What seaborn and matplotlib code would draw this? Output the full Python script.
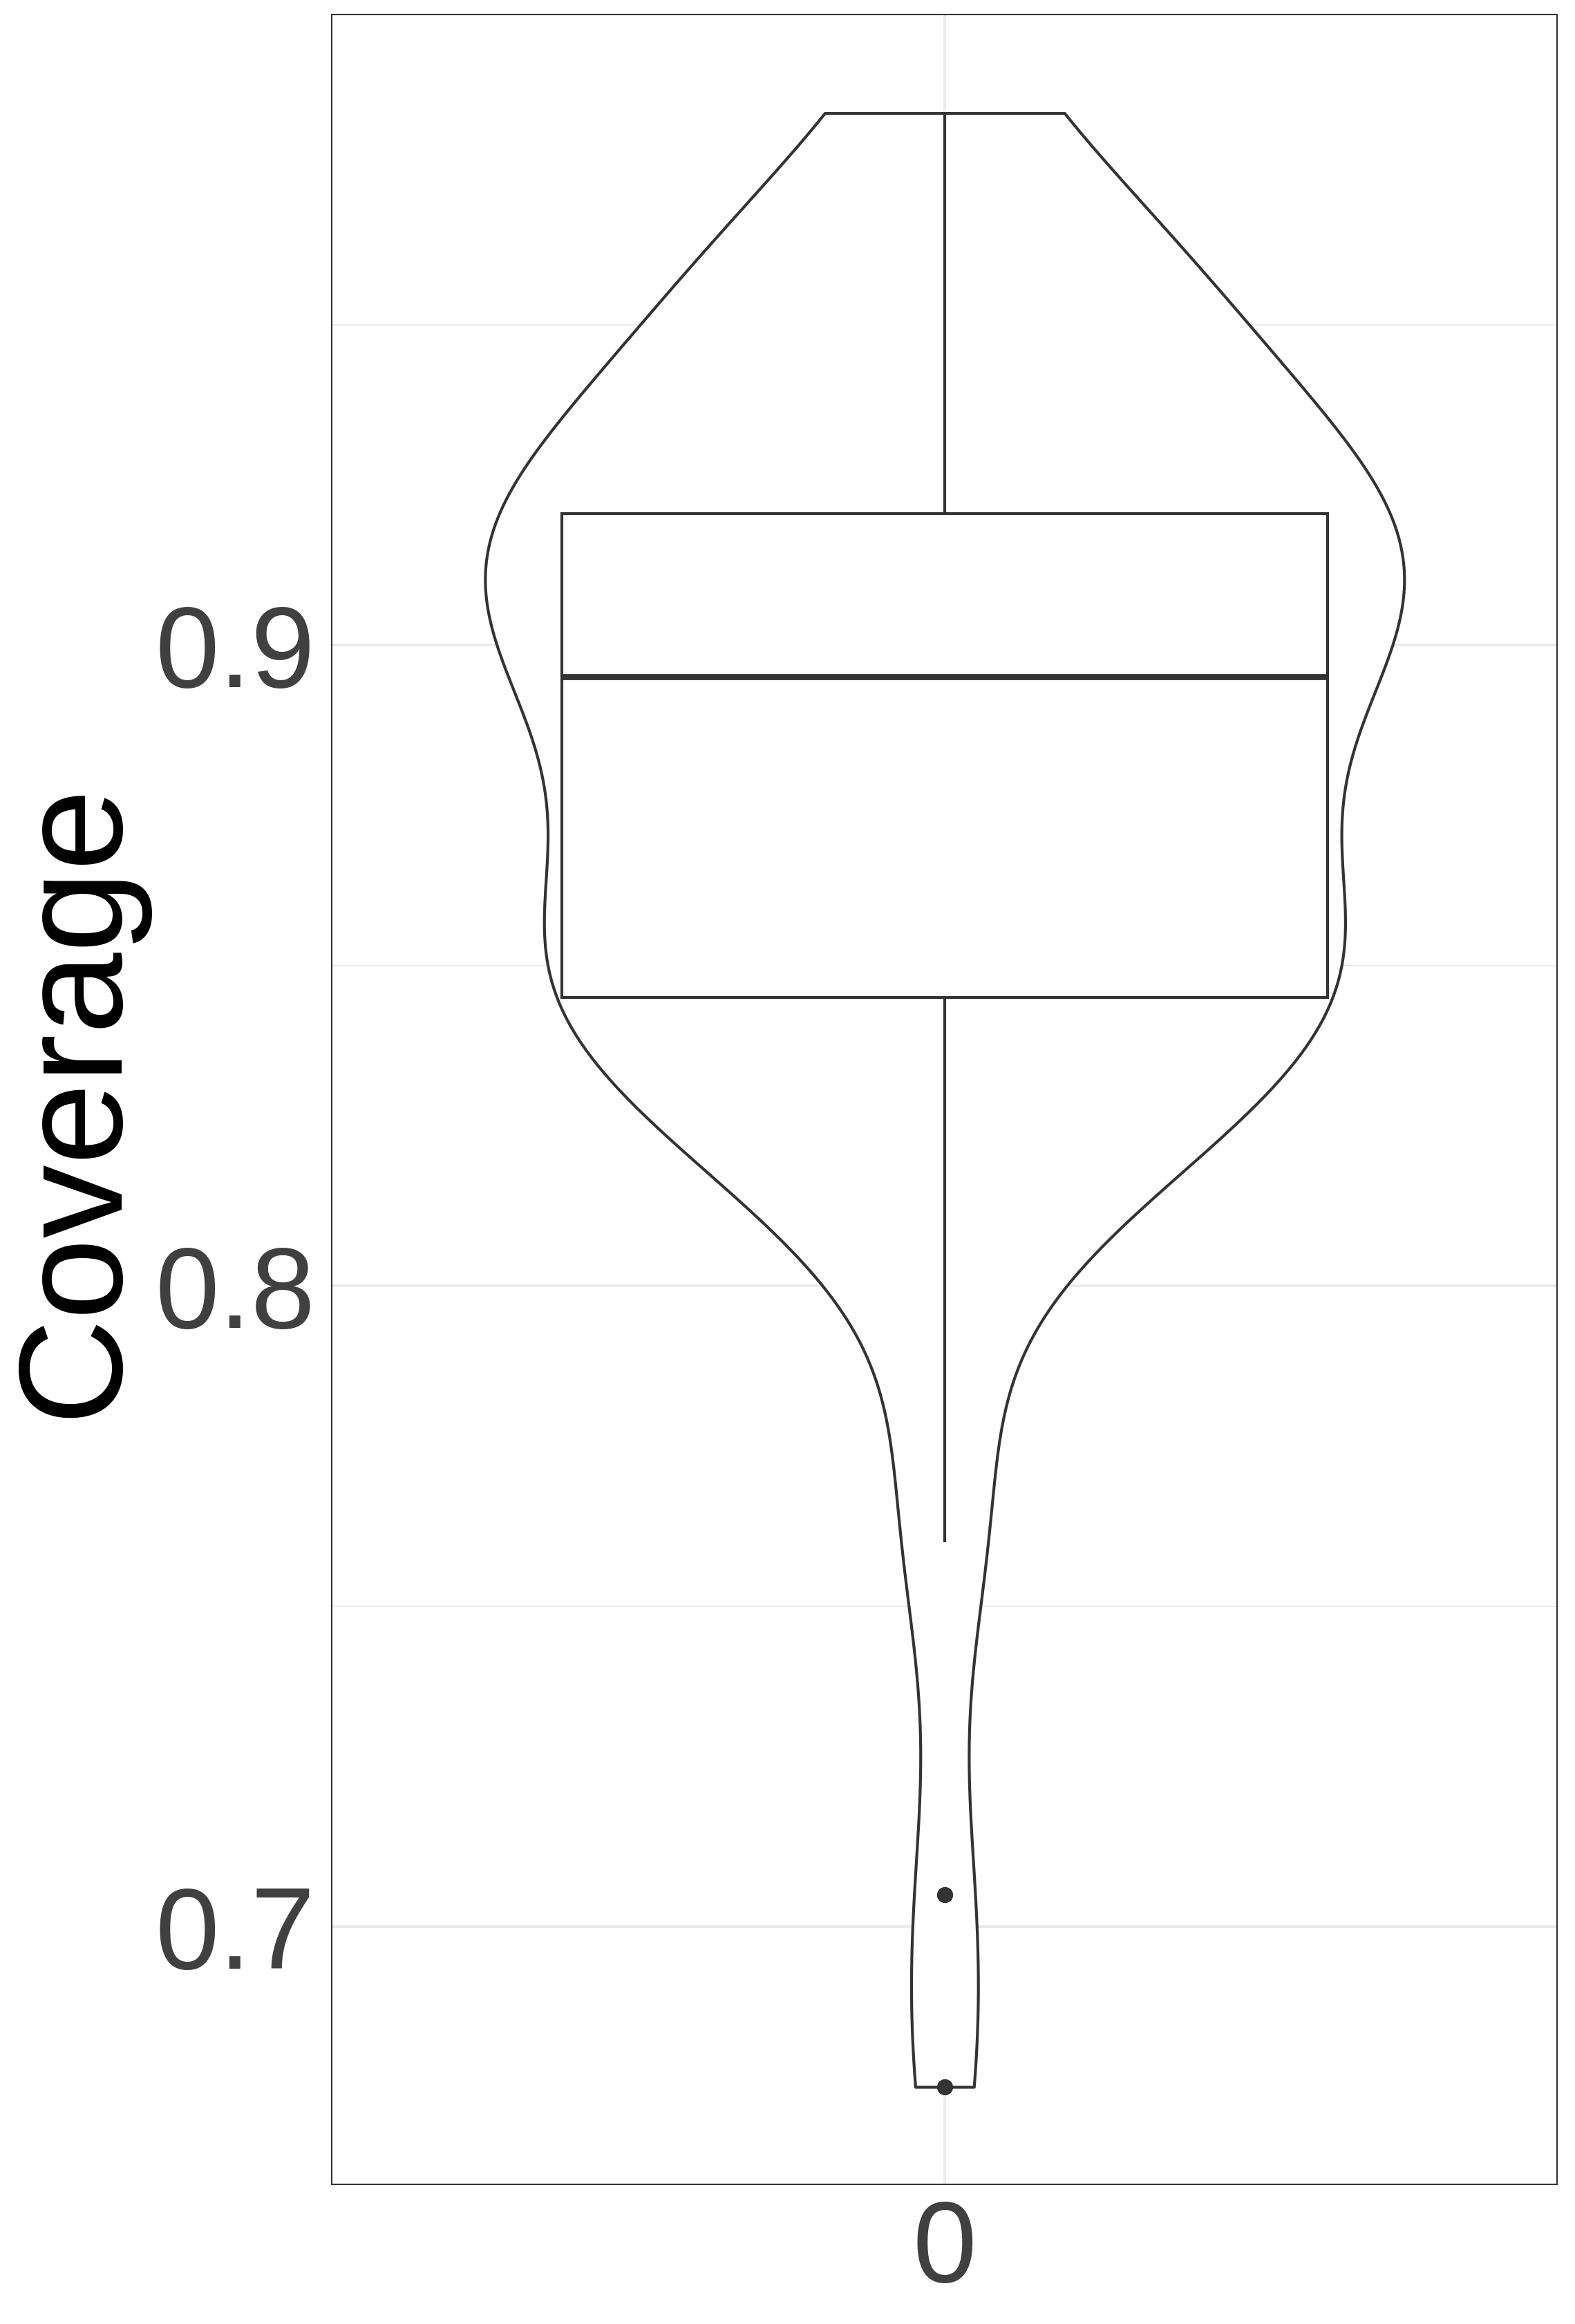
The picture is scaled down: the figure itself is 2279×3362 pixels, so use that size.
import numpy as np
import pandas as pd
import matplotlib
matplotlib.use('Agg')
import matplotlib.pyplot as plt
import seaborn as sns

coverage = [
    0.675, 0.705, 0.760, 0.771, 0.820, 0.820, 0.820, 0.820, 0.822, 0.825,
    0.834, 0.845, 0.845, 0.845, 0.845, 0.845, 0.854, 0.854, 0.854, 0.854,
    0.854, 0.854, 0.855, 0.856, 0.872, 0.883, 0.883, 0.884, 0.884, 0.895,
    0.895, 0.895, 0.895, 0.895, 0.895, 0.895, 0.913, 0.918, 0.919, 0.919,
    0.919, 0.919, 0.919, 0.919, 0.920, 0.922, 0.922, 0.922, 0.922, 0.922,
    0.950, 0.955, 0.955, 0.955, 0.955, 0.955, 0.955, 0.955, 0.977, 0.983,
]
group = ['0'] * len(coverage)
y_ticks = [0.7, 0.8, 0.9]
y_minor = [0.75, 0.85, 0.95]

df = pd.DataFrame({'group': group, 'Coverage': coverage})

# R's bw.nrd0 expressed as a factor of the sd (what the kde expects)
vals = np.array(coverage)
sd = vals.std(ddof=1)
iqr = np.percentile(vals, 75) - np.percentile(vals, 25)
bw = 0.9 * min(sd, iqr / 1.34) * len(vals) ** -0.2 / sd

sns.set_theme(style='white')
plt.rcParams['font.family'] = ['Liberation Sans', 'DejaVu Sans']

fig = plt.figure(figsize=(2279 / 300, 3362 / 300), dpi=300)
ax = fig.add_axes([0.2107, 0.0601, 0.7781, 0.9337])

line = '#333333'
sns.violinplot(data=df, x='group', y='Coverage', ax=ax, cut=0, width=0.9,
               bw_method=bw, gridsize=512, inner=None, color='white',
               linecolor=line, linewidth=1.0, saturation=1)
sns.boxplot(data=df, x='group', y='Coverage', ax=ax, width=0.75, whis=1.5,
            color='white', linecolor=line, linewidth=1.0, saturation=1,
            showcaps=False,
            medianprops={'linewidth': 2.1, 'color': line},
            flierprops={'marker': 'o', 'markersize': 4.6, 'markerfacecolor': line,
                        'markeredgecolor': line})

ax.set_xlim(-0.6, 0.6)
ax.set_ylim(0.6598, 0.9984)
ax.set_yticks(y_ticks)
ax.set_yticklabels(['0.7', '0.8', '0.9'])
ax.set_yticks(y_minor, minor=True)
ax.set_axisbelow(True)
ax.grid(which='major', color='#EBEBEB', linewidth=0.95)
ax.grid(which='minor', axis='y', color='#EBEBEB', linewidth=0.5)
ax.tick_params(which='major', length=2.7, width=1.0, color=line, labelcolor='#404040',
               labelsize=40, pad=3)
ax.tick_params(which='minor', length=0)
ax.tick_params(axis='x', pad=2)
for sp in ax.spines.values():
    sp.set_visible(True)
    sp.set_color(line)
    sp.set_linewidth(0.5)

ax.set_xlabel('')
ax.set_ylabel('Coverage', fontsize=51, color='black')
ax.yaxis.set_label_coords(-0.152, 0.5)

fig.savefig('out.png', dpi=300)
